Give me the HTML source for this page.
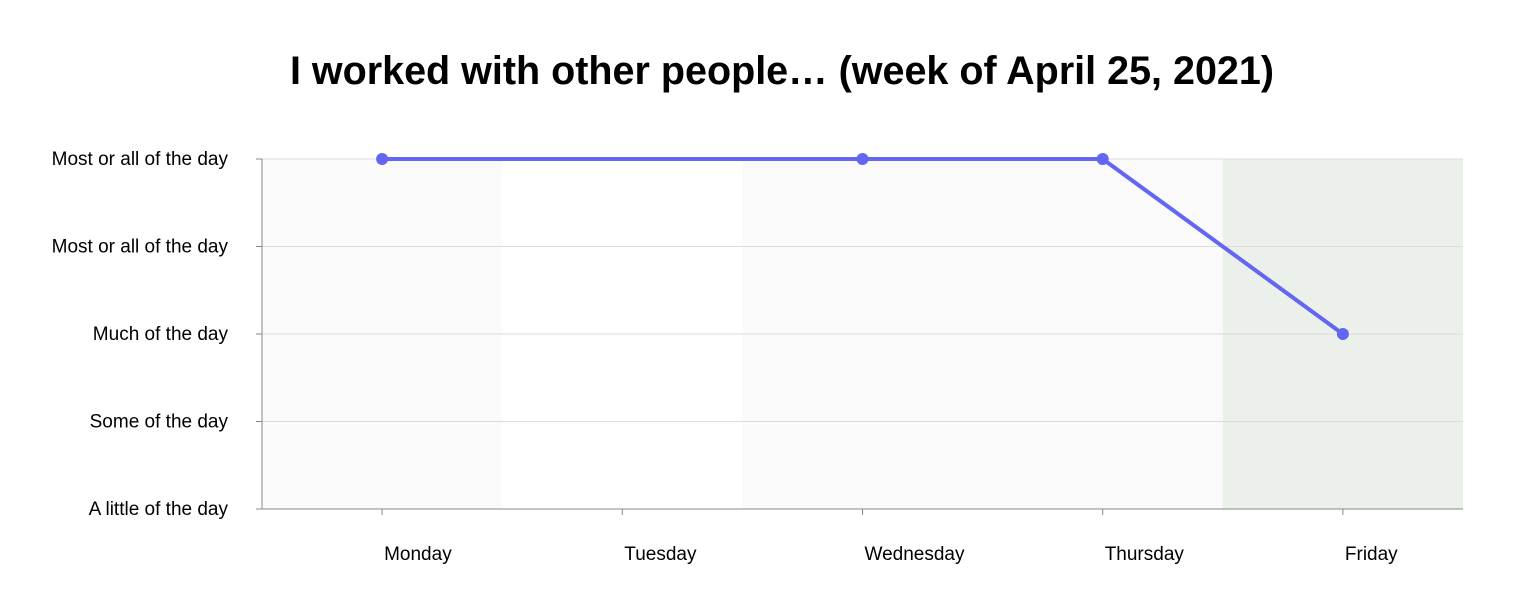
<!DOCTYPE html>
<html><head><meta charset="utf-8"><style>
body{margin:0;background:#fff;}
svg{display:block;font-family:"Liberation Sans",Arial,sans-serif;}
</style></head><body>
<svg id="chart" width="1513" height="613" viewBox="0 0 1513 613" xmlns="http://www.w3.org/2000/svg">
<text x="782" y="84" text-anchor="middle" font-size="39.5" font-weight="bold" fill="#000">I worked with other people… (week of April 25, 2021)</text>
<g id="bands"></g><g id="grid"></g><g id="axes"></g><g id="series"></g>
</svg>
<script>
const categories = ["Monday","Tuesday","Wednesday","Thursday","Friday"];
const values = [4, null, 4, 4, 2];
const yTickLabels = ["A little of the day","Some of the day","Much of the day","Most or all of the day","Most or all of the day"];
const bandColors = ["#fafafa","#ffffff","#fafafa","#fafafa","#ebf1ea"];

const L=262,R=1463,T=159,B=509;
const bw=(R-L)/categories.length;
const x=i=>L+bw*(i+0.5);
const y=v=>B-(B-T)*v/(yTickLabels.length-1);
const NS="http://www.w3.org/2000/svg";
function mk(tag,parent,attrs){const e=document.createElementNS(NS,tag);for(const k in attrs)e.setAttribute(k,attrs[k]);document.getElementById(parent).appendChild(e);return e;}

categories.forEach((c,i)=>{
  const r=mk('rect','bands',{x:L+bw*i,y:T,width:bw,height:B-T,fill:bandColors[i]});
  
  
  const t=mk('line','axes',{x1:x(i),x2:x(i),y1:B,y2:B+6,stroke:'#888'});
  
  
  const lb=mk('text','axes',{x:x(i)+2,y:560,'font-size':19,fill:'#000'});
  lb.textContent=c;
  
  
});
yTickLabels.forEach((s,i)=>{
  const g=mk('line','grid',{x1:L,x2:R,y1:y(i),y2:y(i),stroke:'#dcdcdc'});
  
  
  const t=mk('line','axes',{x1:L-6,x2:L,y1:y(i),y2:y(i),stroke:'#888'});
  
  
  const lb=mk('text','axes',{x:228,y:y(i)+6,'text-anchor':'end','font-size':19,fill:'#000'});
  lb.textContent=s;
  
  
});
const ya=mk('line','axes',{x1:L,x2:L,y1:T,y2:B,stroke:'#888'});


const xa=mk('line','axes',{x1:L,x2:R,y1:B,y2:B,stroke:'#888'});



const pts=values.map((v,i)=>v==null?null:[x(i),y(v)]).filter(p=>p);
const path=mk('polyline','series',{points:pts.map(p=>p.join(',')).join(' '),fill:'none',stroke:'#6366f1',"stroke-width":4,"stroke-linejoin":"round"});


values.forEach((v,i)=>{
  if(v==null)return;
  const c=mk('circle','series',{cx:x(i),cy:y(v),r:6,fill:'#6366f1'});
  
  
});
</script>
</body></html>
